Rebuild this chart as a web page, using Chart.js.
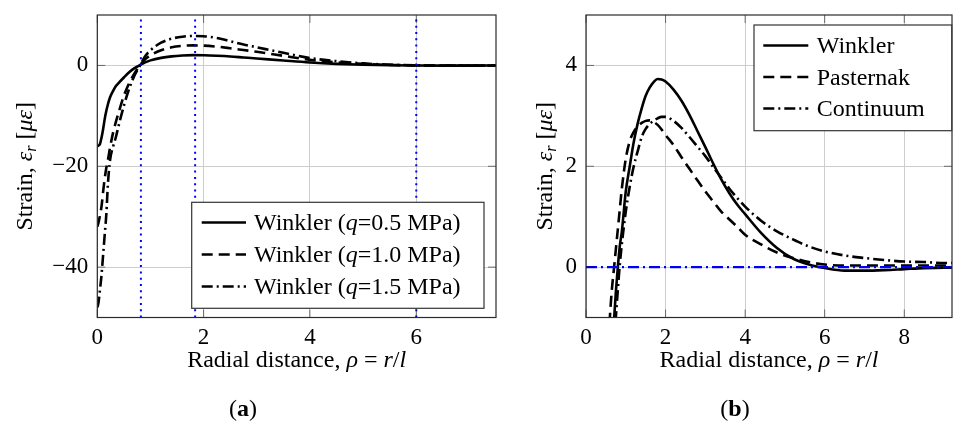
<!DOCTYPE html>
<html><head><meta charset="utf-8">
<script src="https://cdn.jsdelivr.net/npm/chart.js@4.4.0/dist/chart.umd.min.js"></script>
<style>
html,body{margin:0;padding:0;background:#fff;}
#wrap{position:relative;width:953px;height:426px;overflow:hidden;background:#fff;}
canvas{position:absolute;top:0;}
</style></head><body>
<div id="wrap">
<canvas id="cA" width="520" height="426" style="left:0px"></canvas>
<canvas id="cB" width="453" height="426" style="left:500px"></canvas>
</div>
<script>
// ---------- Panel (a) data ----------
const xA = [0,0.02,0.05,0.08,0.11,0.14,0.17,0.2,0.24,0.3,0.35,0.4,0.5,0.6,0.7,0.8,0.9,1.0,1.2,1.4,1.6,1.8,2.0,2.25,2.5,2.75,3.0,3.5,4.0,4.5,5.0,5.5,6.0,6.5,7.0,7.5];
const winklerQ05 = [-16,-15.9,-15.6,-14.3,-12.6,-10.6,-9.0,-7.7,-6.3,-5.0,-4.1,-3.5,-2.4,-1.35,-0.55,0.05,0.6,1.0,1.5,1.8,1.97,2.05,2.02,1.92,1.78,1.58,1.38,0.97,0.58,0.3,0.12,0.02,-0.03,-0.04,-0.03,-0.02];
const winklerQ10 = [-32,-31.3,-29.8,-27.9,-25.0,-22.4,-20.3,-18.7,-16.3,-13.2,-11.2,-9.4,-6.0,-3.5,-1.6,0.0,1.2,2.0,3.0,3.6,3.88,3.97,3.92,3.72,3.4,3.05,2.7,1.9,1.1,0.62,0.3,0.1,0.0,-0.04,-0.04,-0.02];
const winklerQ15 = [-48,-47.2,-44.5,-41.5,-37.5,-33.5,-29.5,-23.5,-18.8,-16.0,-14.2,-12.0,-8.0,-4.6,-2.0,-0.1,1.8,3.0,4.5,5.3,5.7,5.85,5.8,5.45,4.8,4.15,3.6,2.5,1.45,0.85,0.4,0.15,0.02,-0.04,-0.05,-0.03];
const vLinesA = [0.82, 1.84, 6.0];
const labelsA = ['Winkler (q=0.5 MPa)','Winkler (q=1.0 MPa)','Winkler (q=1.5 MPa)'];
const xTicksA = [0,2,4,6];
const yTicksA = [-40,-20,0];
const xRangeA = [0, 7.5];
const yRangeA = [-50, 10];

// ---------- Panel (b) data ----------
const xB = [0.55,0.6,0.65,0.7,0.75,0.8,0.85,0.9,1.0,1.1,1.2,1.3,1.4,1.5,1.6,1.7,1.8,1.9,2.0,2.2,2.4,2.6,2.8,3.0,3.2,3.4,3.6,3.8,4.0,4.4,4.8,5.2,5.6,6.0,6.5,7.0,7.5,8.0,8.5,9.0,9.2];
const winklerB = [-3.8,-2.7,-1.8,-1.1,-0.5,0.0,0.42,0.7,1.5,2.0,2.48,2.85,3.15,3.4,3.56,3.67,3.73,3.72,3.68,3.52,3.3,3.02,2.7,2.38,2.05,1.74,1.47,1.24,1.05,0.68,0.38,0.17,0.05,-0.02,-0.07,-0.07,-0.06,-0.04,-0.02,-0.01,-0.01];
const pasternakB = [-1.8,-1.0,-0.45,-0.05,0.35,0.75,1.15,1.55,2.15,2.5,2.68,2.79,2.86,2.9,2.91,2.88,2.82,2.73,2.62,2.42,2.18,1.95,1.72,1.5,1.3,1.1,0.95,0.8,0.64,0.45,0.29,0.18,0.1,0.05,0.03,0.03,0.03,0.03,0.03,0.03,0.03];
const continuumB = [-4.0,-3.2,-2.2,-1.5,-1.0,-0.45,0.05,0.45,1.1,1.6,2.0,2.3,2.58,2.74,2.84,2.9,2.95,2.98,2.98,2.9,2.76,2.58,2.39,2.2,1.98,1.77,1.56,1.37,1.2,0.92,0.71,0.55,0.41,0.31,0.23,0.18,0.14,0.11,0.1,0.08,0.08];
const hLineB = 0;
const labelsB = ['Winkler','Pasternak','Continuum'];
const xTicksB = [0,2,4,6,8];
const yTicksB = [0,2,4];
const xRangeB = [0, 9.2];
const yRangeB = [-1, 5];

// ---------- styling ----------
const FONT = 'Liberation Serif';
const FS = 23;      // tick labels
const FT = 24;      // titles, legend, captions
const DASH = [11, 6];
const DASHDOT = [11, 4, 2, 4];
const BLUE = '#0000ff';

function fmt(v){ return v < 0 ? '\u2212' + Math.abs(v) : String(v); }
function setFont(ctx, st, size){
  ctx.font = (st === 'italic' ? 'italic ' : '') + (st === 'bold' ? 'bold ' : '') + size + 'px "' + FONT + '"';
}
function richWidth(ctx, segs){
  let w = 0;
  segs.forEach(s => { setFont(ctx, s.s || 'normal', s.z || FT); w += ctx.measureText(s.t).width; });
  return w;
}
function drawRich(ctx, segs, x, y, align){
  const w = richWidth(ctx, segs);
  let cx = align === 'center' ? x - w / 2 : x;
  ctx.textBaseline = 'alphabetic'; ctx.textAlign = 'left'; ctx.fillStyle = '#000';
  segs.forEach(s => {
    setFont(ctx, s.s || 'normal', s.z || FT);
    ctx.fillText(s.t, cx, y + (s.dy || 0));
    cx += ctx.measureText(s.t).width;
  });
}
function qSegs(label){
  const i = label.indexOf('q');
  if (i < 0) return [{t: label}];
  return [{t: label.slice(0, i)}, {t: 'q', s: 'italic'}, {t: label.slice(i + 1)}];
}
const yTitleSegs = [{t:'Strain, '},{t:'\u03B5',s:'italic'},{t:'r',s:'italic',z:16,dy:4},{t:' ['},{t:'\u03BC\u03B5',s:'italic'},{t:']'}];
const xTitleSegs = [{t:'Radial distance, '},{t:'\u03C1',s:'italic'},{t:' = '},{t:'r',s:'italic'},{t:'/'},{t:'l',s:'italic'}];

function decor(cfg){
  return {
    id: 'decor',
    afterDraw(chart){
      const ctx = chart.ctx, a = chart.chartArea, xs = chart.scales.x, ys = chart.scales.y;
      ctx.save();
      const TL = 8;
      ctx.strokeStyle = 'rgba(0,0,0,0.5)'; ctx.lineWidth = 1;
      ctx.beginPath();
      cfg.xTicks.forEach(v => { const p = xs.getPixelForValue(v); ctx.moveTo(p, a.top); ctx.lineTo(p, a.top + TL); ctx.moveTo(p, a.bottom); ctx.lineTo(p, a.bottom - TL); });
      cfg.yTicks.forEach(v => { const p = ys.getPixelForValue(v); ctx.moveTo(a.left, p); ctx.lineTo(a.left + TL, p); ctx.moveTo(a.right, p); ctx.lineTo(a.right - TL, p); });
      ctx.stroke();
      ctx.strokeStyle = '#2a2a2a'; ctx.lineWidth = 1.2;
      ctx.strokeRect(a.left, a.top, a.right - a.left, a.bottom - a.top);
      const L = cfg.legend;
      ctx.fillStyle = '#fff'; ctx.fillRect(L.x, L.y, L.w, L.h);
      ctx.strokeStyle = '#333'; ctx.lineWidth = 1.2; ctx.strokeRect(L.x, L.y, L.w, L.h);
      cfg.labels.forEach((lab, i) => {
        const yc = L.rowY[i];
        ctx.setLineDash(cfg.dashes[i]); ctx.lineCap = 'butt';
        ctx.strokeStyle = '#000'; ctx.lineWidth = 2.6;
        ctx.beginPath(); ctx.moveTo(L.sx0, yc); ctx.lineTo(L.sx1, yc); ctx.stroke();
        ctx.setLineDash([]);
        drawRich(ctx, qSegs(lab), L.tx, yc + 7.5, 'left');
      });
      ctx.save();
      ctx.translate(cfg.yTitleX, (a.top + a.bottom) / 2);
      ctx.rotate(-Math.PI / 2);
      drawRich(ctx, yTitleSegs, 0, 0, 'center');
      ctx.restore();
      drawRich(ctx, xTitleSegs, (a.left + a.right) / 2, 367, 'center');
      drawRich(ctx, [{t:'('},{t:cfg.caption,s:'bold'},{t:')'}], cfg.captionX, 416, 'center');
      ctx.restore();
    }
  };
}

function curve(xs, ys, label, dash, order){
  return { label, data: xs.map((x, i) => ({x, y: ys[i]})), borderColor: '#000', borderWidth: 2.6,
    borderDash: dash, pointRadius: 0, fill: false, cubicInterpolationMode: 'monotone', order };
}

function makeChart(id, cfg){
  new Chart(document.getElementById(id), {
    type: 'line',
    data: { datasets: cfg.datasets },
    options: {
      responsive: false, animation: false, events: [],
      layout: { padding: { left: 0, top: 15, right: cfg.padR, bottom: 0 } },
      plugins: { legend: { display: false }, tooltip: { enabled: false } },
      scales: {
        x: { type: 'linear', min: cfg.xRange[0], max: cfg.xRange[1],
          afterBuildTicks: s => { s.ticks = cfg.xTicks.map(v => ({value: v})); },
          afterFit: s => { s.height = 426 - 317.5; s.paddingLeft = 0; s.paddingRight = 0; s.paddingTop = 0; s.paddingBottom = 0; },
          grid: { color: '#cdcdcd', lineWidth: 1, drawTicks: false },
          border: { display: false },
          ticks: { padding: 7, color: '#000', font: { family: FONT, size: FS }, callback: v => fmt(v), maxRotation: 0 } },
        y: { type: 'linear', min: cfg.yRange[0], max: cfg.yRange[1],
          afterBuildTicks: s => { s.ticks = cfg.yTicks.map(v => ({value: v})); },
          afterFit: s => { s.width = cfg.yw; s.paddingTop = 0; s.paddingBottom = 0; s.paddingLeft = 0; s.paddingRight = 0; },
          grid: { color: '#cdcdcd', lineWidth: 1, drawTicks: false },
          border: { display: false },
          ticks: { padding: 9, color: '#000', font: { family: FONT, size: FS }, callback: v => fmt(v) } }
      }
    },
    plugins: [decor(cfg)]
  });
}

const dsA = [
  ...vLinesA.map(v => ({ data: [{x: v, y: yRangeA[0]}, {x: v, y: yRangeA[1]}], borderColor: BLUE, borderWidth: 2,
    borderDash: [2, 4.3], pointRadius: 0, fill: false, order: 0 })),
  curve(xA, winklerQ05, labelsA[0], [], 1),
  curve(xA, winklerQ10, labelsA[1], DASH, 2),
  curve(xA, winklerQ15, labelsA[2], DASHDOT, 3)
];
makeChart('cA', {
  datasets: dsA, xRange: xRangeA, yRange: yRangeA, xTicks: xTicksA, yTicks: yTicksA,
  padR: 520 - 496, yw: 97.3, labels: labelsA, dashes: [[], DASH, DASHDOT],
  legend: { x: 191.7, y: 202.3, w: 292.3, h: 106, rowY: [222.5, 254.5, 286.5], sx0: 201.7, sx1: 246, tx: 254 },
  yTitleX: 31.7, caption: 'a', captionX: 243
});

const dsB = [
  { data: [{x: xRangeB[0], y: hLineB}, {x: xRangeB[1], y: hLineB}], borderColor: BLUE, borderWidth: 2.4,
    borderDash: DASHDOT, pointRadius: 0, fill: false, order: 0 },
  curve(xB, winklerB, labelsB[0], [], 1),
  curve(xB, pasternakB, labelsB[1], DASH, 2),
  curve(xB, continuumB, labelsB[2], DASHDOT, 3)
];
makeChart('cB', {
  datasets: dsB, xRange: xRangeB, yRange: yRangeB, xTicks: xTicksB, yTicks: yTicksB,
  padR: 1, yw: 86, labels: labelsB, dashes: [[], DASH, DASHDOT],
  legend: { x: 254, y: 25, w: 197.7, h: 105.7, rowY: [45.5, 77, 108.5], sx0: 263.3, sx1: 308.3, tx: 316.7 },
  yTitleX: 51.7, caption: 'b', captionX: 235
});
</script>
</body></html>
